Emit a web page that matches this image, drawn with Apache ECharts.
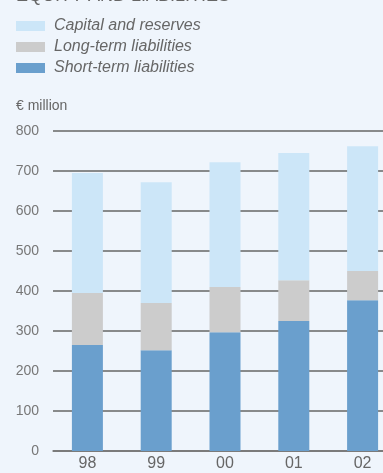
<!DOCTYPE html>
<html>
<head>
<meta charset="utf-8">
<script src="https://cdn.jsdelivr.net/npm/echarts@6/dist/echarts.min.js"></script>
<style>
  html, body { margin: 0; padding: 0; background: #eff5fc; }
  #chart { width: 383px; height: 473px; }
</style>
</head>
<body>
<div id="chart"></div>
<script>
var years = ['98', '99', '00', '01', '02'];
var shortTerm = [265, 252, 297, 325, 377];
var longTerm = [130, 118, 113, 102, 73];
var capital = [300, 302, 312, 318, 312];
var yTicks = [0, 100, 200, 300, 400, 500, 600, 700, 800];

var myChart = echarts.init(document.getElementById('chart'));

// the plot runs past the right edge of the picture, so let the grid overflow
var option = {
    backgroundColor: '#eff5fc',
    animation: false,
    title: [{
        text: 'EQUITY AND LIABILITIES',
        left: 16,
        top: -13,
        padding: 0,
        textStyle: { color: '#666', fontSize: 18, fontWeight: 'normal', fontFamily: 'Liberation Sans' }
    }, {
        text: '€ million',
        left: 16,
        top: 99,
        padding: 0,
        textStyle: { color: '#666', fontSize: 14, fontWeight: 'normal', fontFamily: 'Liberation Sans' }
    }],
    legend: {
        orient: 'vertical',
        left: 16,
        top: 18,
        padding: 0,
        itemWidth: 29,
        itemHeight: 10,
        itemGap: 5,
        icon: 'rect',
        data: ['Capital and reserves', 'Long-term liabilities', 'Short-term liabilities'],
        textStyle: { color: '#666', fontSize: 16, fontStyle: 'italic', fontFamily: 'Liberation Sans', padding: [0, 0, 0, 4] }
    },
    grid: { left: 53, width: 344, top: 131, bottom: 22, outerBoundsMode: 'none', containLabel: false },
    xAxis: {
        type: 'category',
        data: years,
        axisTick: { show: false },
        axisLine: { lineStyle: { color: '#777', width: 1.5 } },
        axisLabel: { color: '#666', fontSize: 16, margin: 5, fontFamily: 'Liberation Sans' }
    },
    yAxis: {
        type: 'value',
        min: yTicks[0],
        max: yTicks[yTicks.length - 1],
        interval: 100,
        axisLine: { show: false },
        axisTick: { show: false },
        axisLabel: { color: '#777', fontSize: 14, margin: 14, fontFamily: 'Liberation Sans' },
        splitLine: { lineStyle: { color: '#666', width: 1.5 } }
    },
    series: [{
        name: 'Short-term liabilities',
        type: 'bar',
        stack: 'total',
        barWidth: 31,
        itemStyle: { color: '#6a9fcd' },
        data: shortTerm
    }, {
        name: 'Long-term liabilities',
        type: 'bar',
        stack: 'total',
        itemStyle: { color: '#cccccc' },
        data: longTerm
    }, {
        name: 'Capital and reserves',
        type: 'bar',
        stack: 'total',
        itemStyle: { color: '#cce6f8' },
        data: capital
    }]
};
myChart.setOption(option);
</script>
</body>
</html>
